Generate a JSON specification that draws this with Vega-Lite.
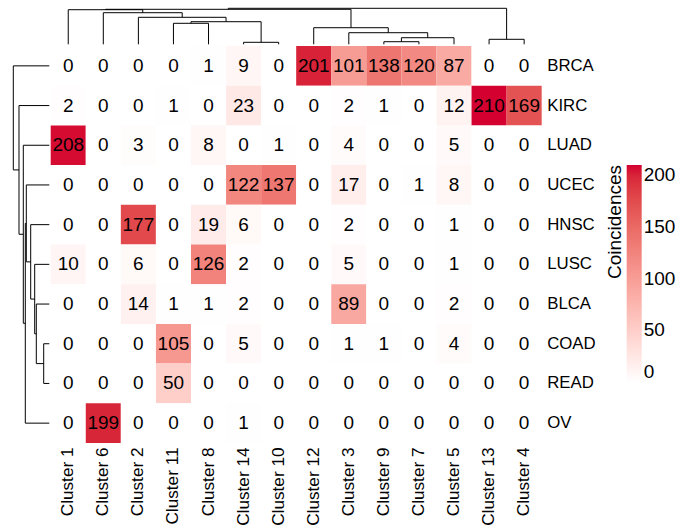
{
  "$schema": "https://vega.github.io/schema/vega-lite/v6.json",
  "padding": {"left": 8.7, "top": 4, "right": 0, "bottom": 0},
  "spacing": 0,
  "config": {
    "view": {"stroke": null},
    "font": "Liberation Sans",
    "axis": {"labelFont": "Liberation Sans", "labelColor": "black", "ticks": false, "tickSize": 0, "domain": false, "grid": false, "title": null},
    "legend": {"labelFont": "Liberation Sans", "titleFont": "Liberation Sans"}
  },
  "datasets": {
    "matrix": [
      {"type": "BRCA", "Cluster 1": 0, "Cluster 6": 0, "Cluster 2": 0, "Cluster 11": 0, "Cluster 8": 1, "Cluster 14": 9, "Cluster 10": 0, "Cluster 12": 201, "Cluster 3": 101, "Cluster 9": 138, "Cluster 7": 120, "Cluster 5": 87, "Cluster 13": 0, "Cluster 4": 0},
      {"type": "KIRC", "Cluster 1": 2, "Cluster 6": 0, "Cluster 2": 0, "Cluster 11": 1, "Cluster 8": 0, "Cluster 14": 23, "Cluster 10": 0, "Cluster 12": 0, "Cluster 3": 2, "Cluster 9": 1, "Cluster 7": 0, "Cluster 5": 12, "Cluster 13": 210, "Cluster 4": 169},
      {"type": "LUAD", "Cluster 1": 208, "Cluster 6": 0, "Cluster 2": 3, "Cluster 11": 0, "Cluster 8": 8, "Cluster 14": 0, "Cluster 10": 1, "Cluster 12": 0, "Cluster 3": 4, "Cluster 9": 0, "Cluster 7": 0, "Cluster 5": 5, "Cluster 13": 0, "Cluster 4": 0},
      {"type": "UCEC", "Cluster 1": 0, "Cluster 6": 0, "Cluster 2": 0, "Cluster 11": 0, "Cluster 8": 0, "Cluster 14": 122, "Cluster 10": 137, "Cluster 12": 0, "Cluster 3": 17, "Cluster 9": 0, "Cluster 7": 1, "Cluster 5": 8, "Cluster 13": 0, "Cluster 4": 0},
      {"type": "HNSC", "Cluster 1": 0, "Cluster 6": 0, "Cluster 2": 177, "Cluster 11": 0, "Cluster 8": 19, "Cluster 14": 6, "Cluster 10": 0, "Cluster 12": 0, "Cluster 3": 2, "Cluster 9": 0, "Cluster 7": 0, "Cluster 5": 1, "Cluster 13": 0, "Cluster 4": 0},
      {"type": "LUSC", "Cluster 1": 10, "Cluster 6": 0, "Cluster 2": 6, "Cluster 11": 0, "Cluster 8": 126, "Cluster 14": 2, "Cluster 10": 0, "Cluster 12": 0, "Cluster 3": 5, "Cluster 9": 0, "Cluster 7": 0, "Cluster 5": 1, "Cluster 13": 0, "Cluster 4": 0},
      {"type": "BLCA", "Cluster 1": 0, "Cluster 6": 0, "Cluster 2": 14, "Cluster 11": 1, "Cluster 8": 1, "Cluster 14": 2, "Cluster 10": 0, "Cluster 12": 0, "Cluster 3": 89, "Cluster 9": 0, "Cluster 7": 0, "Cluster 5": 2, "Cluster 13": 0, "Cluster 4": 0},
      {"type": "COAD", "Cluster 1": 0, "Cluster 6": 0, "Cluster 2": 0, "Cluster 11": 105, "Cluster 8": 0, "Cluster 14": 5, "Cluster 10": 0, "Cluster 12": 0, "Cluster 3": 1, "Cluster 9": 1, "Cluster 7": 0, "Cluster 5": 4, "Cluster 13": 0, "Cluster 4": 0},
      {"type": "READ", "Cluster 1": 0, "Cluster 6": 0, "Cluster 2": 0, "Cluster 11": 50, "Cluster 8": 0, "Cluster 14": 0, "Cluster 10": 0, "Cluster 12": 0, "Cluster 3": 0, "Cluster 9": 0, "Cluster 7": 0, "Cluster 5": 0, "Cluster 13": 0, "Cluster 4": 0},
      {"type": "OV", "Cluster 1": 0, "Cluster 6": 199, "Cluster 2": 0, "Cluster 11": 0, "Cluster 8": 0, "Cluster 14": 1, "Cluster 10": 0, "Cluster 12": 0, "Cluster 3": 0, "Cluster 9": 0, "Cluster 7": 0, "Cluster 5": 0, "Cluster 13": 0, "Cluster 4": 0}
    ],
    "colTree": [
      {"a": 6, "ha": 0, "b": 7, "hb": 0, "h": 2.0},
      {"a": 4, "ha": 0, "b": 5, "hb": 0, "h": 21.0},
      {"a": 4.5, "ha": 21.0, "b": 6.5, "hb": 2.0, "h": 22.6},
      {"a": 3, "ha": 0, "b": 5.5, "hb": 22.6, "h": 27.0},
      {"a": 2, "ha": 0, "b": 4.25, "hb": 27.0, "h": 31.6},
      {"a": 1, "ha": 0, "b": 3.125, "hb": 31.6, "h": 34.6},
      {"a": 10, "ha": 0, "b": 11, "hb": 0, "h": 2.6},
      {"a": 10.5, "ha": 2.6, "b": 12, "hb": 0, "h": 6.6},
      {"a": 9, "ha": 0, "b": 11.25, "hb": 6.6, "h": 11.6},
      {"a": 8, "ha": 0, "b": 10.125, "hb": 11.6, "h": 16.6},
      {"a": 2.0625, "ha": 34.6, "b": 9.0625, "hb": 16.6, "h": 35.0},
      {"a": 13, "ha": 0, "b": 14, "hb": 0, "h": 5.0},
      {"a": 5.5625, "ha": 35.0, "b": 13.5, "hb": 5.0, "h": 36.0}
    ],
    "rowTree": [
      {"a": 8, "ha": 0, "b": 9, "hb": 0, "h": 5.6},
      {"a": 7, "ha": 0, "b": 8.5, "hb": 5.6, "h": 13.0},
      {"a": 6, "ha": 0, "b": 7.75, "hb": 13.0, "h": 14.6},
      {"a": 5, "ha": 0, "b": 6.875, "hb": 14.6, "h": 18.6},
      {"a": 4, "ha": 0, "b": 5.9375, "hb": 18.6, "h": 23.0},
      {"a": 4.96875, "ha": 23.0, "b": 10, "hb": 0, "h": 24.0},
      {"a": 3, "ha": 0, "b": 7.484375, "hb": 24.0, "h": 26.0},
      {"a": 2, "ha": 0, "b": 5.2421875, "hb": 26.0, "h": 30.3},
      {"a": 1, "ha": 0, "b": 3.62109375, "hb": 30.3, "h": 36.0}
    ]
  },
  "vconcat": [
    {
      "width": 533,
      "height": 42,
      "data": {"name": "colTree"},
      "layer": [
        {
          "mark": {"type": "rule", "color": "black", "strokeWidth": 1},
          "encoding": {
            "x": {"field": "a", "type": "quantitative", "scale": {"domain": [-0.6976, 14.5], "nice": false, "zero": false}, "axis": null},
            "y": {"field": "ha", "type": "quantitative", "scale": {"domain": [-1.7, 40.3], "nice": false, "zero": false}, "axis": null},
            "y2": {"field": "h"}
          }
        },
        {
          "mark": {"type": "rule", "color": "black", "strokeWidth": 1},
          "encoding": {
            "x": {"field": "b", "type": "quantitative"},
            "y": {"field": "hb", "type": "quantitative"},
            "y2": {"field": "h"}
          }
        },
        {
          "mark": {"type": "rule", "color": "black", "strokeWidth": 1},
          "encoding": {
            "x": {"field": "a", "type": "quantitative"},
            "x2": {"field": "b"},
            "y": {"field": "h", "type": "quantitative"}
          }
        }
      ]
    },
    {
      "spacing": 0,
      "hconcat": [
        {
          "width": 42,
          "height": 397,
          "data": {"name": "rowTree"},
          "layer": [
            {
              "mark": {"type": "rule", "color": "black", "strokeWidth": 1},
              "encoding": {
                "y": {"field": "a", "type": "quantitative", "scale": {"domain": [0.5, 10.5], "nice": false, "zero": false, "reverse": true}, "axis": null},
                "x": {"field": "ha", "type": "quantitative", "scale": {"domain": [-1.4, 40.6], "nice": false, "zero": false, "reverse": true}, "axis": null},
                "x2": {"field": "h"}
              }
            },
            {
              "mark": {"type": "rule", "color": "black", "strokeWidth": 1},
              "encoding": {
                "y": {"field": "b", "type": "quantitative"},
                "x": {"field": "hb", "type": "quantitative"},
                "x2": {"field": "h"}
              }
            },
            {
              "mark": {"type": "rule", "color": "black", "strokeWidth": 1},
              "encoding": {
                "y": {"field": "a", "type": "quantitative"},
                "y2": {"field": "b"},
                "x": {"field": "h", "type": "quantitative"}
              }
            }
          ]
        },
        {
          "width": 491,
          "height": 397,
          "data": {"name": "matrix"},
          "transform": [
            {"fold": ["Cluster 1", "Cluster 6", "Cluster 2", "Cluster 11", "Cluster 8", "Cluster 14", "Cluster 10", "Cluster 12", "Cluster 3", "Cluster 9", "Cluster 7", "Cluster 5", "Cluster 13", "Cluster 4"], "as": ["cluster", "n"]}
          ],
          "encoding": {
            "x": {
              "field": "cluster", "type": "nominal",
              "sort": ["Cluster 1", "Cluster 6", "Cluster 2", "Cluster 11", "Cluster 8", "Cluster 14", "Cluster 10", "Cluster 12", "Cluster 3", "Cluster 9", "Cluster 7", "Cluster 5", "Cluster 13", "Cluster 4"],
              "scale": {"paddingInner": 0, "paddingOuter": 0},
              "axis": {"orient": "bottom", "labelAngle": -90, "labelAlign": "right", "labelBaseline": "middle", "labelFontSize": 17.2, "labelPadding": 4}
            },
            "y": {
              "field": "type", "type": "nominal",
              "sort": ["BRCA", "KIRC", "LUAD", "UCEC", "HNSC", "LUSC", "BLCA", "COAD", "READ", "OV"],
              "scale": {"paddingInner": 0, "paddingOuter": 0},
              "axis": {"orient": "right", "labelFontSize": 16.8, "labelPadding": 5}
            }
          },
          "layer": [
            {
              "mark": {"type": "rect"},
              "encoding": {
                "color": {
                  "field": "n", "type": "quantitative",
                  "scale": {"domain": [0, 210], "range": ["#FFFFFF", "#D40030"], "interpolate": "lab"},
                  "legend": {
                    "title": "Coincidences",
                    "orient": "none",
                    "legendX": 597,
                    "legendY": 161,
                    "direction": "vertical",
                    "gradientLength": 217,
                    "gradientThickness": 15,
                    "gradientStrokeWidth": 0,
                    "values": [0, 50, 100, 150, 200],
                    "labelFontSize": 19,
                    "labelColor": "black",
                    "labelOffset": 2,
                    "titleOrient": "left",
                    "titleAngle": 270,
                    "titleAnchor": "end",
                    "titleFontSize": 19,
                    "titleFontWeight": "normal",
                    "titleColor": "black",
                    "titlePadding": 1,
                    "padding": 0
                  }
                }
              }
            },
            {
              "mark": {"type": "text", "fontSize": 19, "color": "black", "baseline": "middle"},
              "encoding": {"text": {"field": "n", "type": "quantitative"}}
            }
          ]
        }
      ]
    }
  ]
}
